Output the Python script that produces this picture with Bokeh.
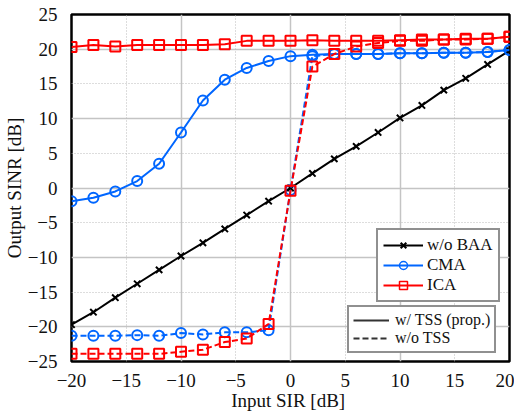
from bokeh.plotting import figure
from bokeh.models import Range1d, FixedTicker, Grid, Legend, LegendItem, ColumnDataSource
from bokeh.embed import file_html
from bokeh.resources import INLINE

x_sir = [-20, -18, -16, -14, -12, -10, -8, -6, -4, -2, 0, 2, 4, 6, 8, 10, 12, 14, 16, 18, 20]

baa = [-19.7, -17.9, -15.8, -13.8, -11.8, -9.8, -7.9, -5.9, -3.9, -1.9, 0.0,
       2.1, 4.2, 6.0, 8.0, 10.1, 11.9, 14.1, 15.8, 17.8, 19.8]

cma_tss = [-1.9, -1.4, -0.5, 1.0, 3.5, 8.0, 12.6, 15.6, 17.3, 18.3, 19.0,
           19.2, 19.3, 19.3, 19.3, 19.4, 19.4, 19.5, 19.5, 19.6, 19.9]
cma_notss = [-21.3, -21.3, -21.3, -21.2, -21.3, -20.9, -21.1, -20.8, -20.8, -20.5, -0.3,
             19.0, 19.3, 19.3, 19.3, 19.4, 19.4, 19.5, 19.5, 19.6, 19.9]

ica_tss = [20.3, 20.6, 20.4, 20.6, 20.6, 20.6, 20.6, 20.7, 21.2, 21.2, 21.2,
           21.3, 21.2, 21.2, 21.2, 21.3, 21.4, 21.4, 21.5, 21.5, 21.8]
ica_notss = [-23.9, -23.9, -23.9, -23.9, -23.9, -23.6, -23.3, -22.2, -21.7, -19.6, -0.4,
             17.5, 19.3, 20.4, 20.9, 21.2, 21.2, 21.4, 21.4, 21.5, 21.8]

x_ticks = [-20, -15, -10, -5, 0, 5, 10, 15, 20]
y_ticks = [-25, -20, -15, -10, -5, 0, 5, 10, 15, 20, 25]

FONT = "Liberation Serif"
BLUE = "#0066ff"
RED = "#ff0000"

p = figure(frame_width=438, frame_height=347, output_backend="svg", toolbar_location=None,
           x_range=Range1d(-20, 20), y_range=Range1d(-25, 25),
           min_border_left=60, min_border_top=14, min_border_right=5, min_border_bottom=40)

p.background_fill_color = "white"
p.outline_line_color = "black"
p.outline_line_width = 2.5

for ax in (p.xaxis[0], p.yaxis[0]):
    ax.axis_line_color = None
    ax.major_tick_line_color = None
    ax.minor_tick_line_color = None
    ax.major_label_text_font = FONT
    ax.major_label_text_font_size = "19px"
    ax.major_label_text_color = "#111"
    ax.axis_label_text_font = FONT
    ax.axis_label_text_font_size = "19px"
    ax.axis_label_text_font_style = "normal"
    ax.axis_label_text_color = "#111"

p.xaxis.ticker = FixedTicker(ticks=x_ticks)
p.yaxis.ticker = FixedTicker(ticks=y_ticks)
p.xaxis.major_label_standoff = 6
p.yaxis.major_label_standoff = 8
p.xaxis.axis_label = "Input  SIR [dB]"
p.yaxis.axis_label = "Output SINR [dB]"
p.xaxis.axis_label_standoff = 0
p.yaxis.axis_label_standoff = 0

# major solid grid
p.xgrid.ticker = FixedTicker(ticks=[-10, 0, 10])
p.ygrid.ticker = FixedTicker(ticks=[-20, -10, 0, 10, 20])
for g in (p.xgrid[0], p.ygrid[0]):
    g.grid_line_color = "#c4c4c4"
    g.grid_line_width = 1.5
# minor dotted grid
p.add_layout(Grid(dimension=0, ticker=FixedTicker(ticks=[-15, -5, 5, 15]),
                  grid_line_color="#bbbbbb", grid_line_width=1, grid_line_dash="1 2"))
p.add_layout(Grid(dimension=1, ticker=FixedTicker(ticks=[-15, -5, 5, 15]),
                  grid_line_color="#bbbbbb", grid_line_width=1, grid_line_dash="1 2"))

# w/o BAA
l_baa = p.line(x_sir, baa, line_color="black", line_width=2)
p.scatter(x_sir, baa, marker="x", size=9, line_color="black", line_width=2)

# CMA
l_cma = p.line(x_sir, cma_tss, line_color=BLUE, line_width=2)
p.scatter(x_sir, cma_tss, marker="circle", size=10, line_color=BLUE, line_width=2,
          fill_alpha=0.0)
p.line(x_sir, cma_notss, line_color=BLUE, line_width=2, line_dash="6 3")
p.scatter(x_sir, cma_notss, marker="circle", size=10, line_color=BLUE, line_width=2,
          fill_alpha=0.0)

# ICA
l_ica = p.line(x_sir, ica_tss, line_color=RED, line_width=2)
p.scatter(x_sir, ica_tss, marker="square", size=10, line_color=RED, line_width=2,
          fill_alpha=0.0)
p.line(x_sir, ica_notss, line_color=RED, line_width=2, line_dash="6 3")
p.scatter(x_sir, ica_notss, marker="square", size=10, line_color=RED, line_width=2,
          fill_alpha=0.0)

# legend-only renderers (a single NaN point so nothing is drawn in the plot)
nan = float("nan")
def dummy():
    return ColumnDataSource(data=dict(x=[nan], y=[nan]))

lm_baa = p.scatter("x", "y", source=dummy(), marker="x", size=8, line_color="black", line_width=2)
lm_cma = p.scatter("x", "y", source=dummy(), marker="circle", size=7, line_color=BLUE,
                   line_width=1.5, fill_alpha=0.0)
lm_ica = p.scatter("x", "y", source=dummy(), marker="square", size=8, line_color=RED,
                   line_width=1.5, fill_alpha=0.0)
d_solid = p.line("x", "y", source=dummy(), line_color="#333333", line_width=2)
d_dash = p.line("x", "y", source=dummy(), line_color="#333333", line_width=2, line_dash="6 3")

leg1 = Legend(items=[LegendItem(label="w/o BAA", renderers=[l_baa, lm_baa]),
                     LegendItem(label="CMA", renderers=[l_cma, lm_cma]),
                     LegendItem(label="ICA", renderers=[l_ica, lm_ica])],
              location=(305, 59))
leg2 = Legend(items=[LegendItem(label="w/ TSS (prop.)", renderers=[d_solid]),
                     LegendItem(label="w/o TSS", renderers=[d_dash])],
              location=(276, 8))
for lg, fs in ((leg1, "17px"), (leg2, "16px")):
    lg.label_text_font = FONT
    lg.label_text_font_size = fs
    lg.label_text_color = "#111"
    lg.border_line_color = "#222"
    lg.border_line_width = 2.5
    lg.background_fill_color = "white"
    lg.background_fill_alpha = 1.0
    lg.glyph_width = 40
    lg.glyph_height = 20
    lg.label_height = 20
    lg.label_standoff = 4
    lg.spacing = 0
    lg.padding = 5
    lg.margin = 0
    p.add_layout(lg, "center")
leg2.glyph_width = 36
leg2.glyph_height = 18
leg2.label_height = 18
leg2.label_standoff = 6
leg2.padding = 4

open("out.html", "w").write(file_html(p, INLINE))
